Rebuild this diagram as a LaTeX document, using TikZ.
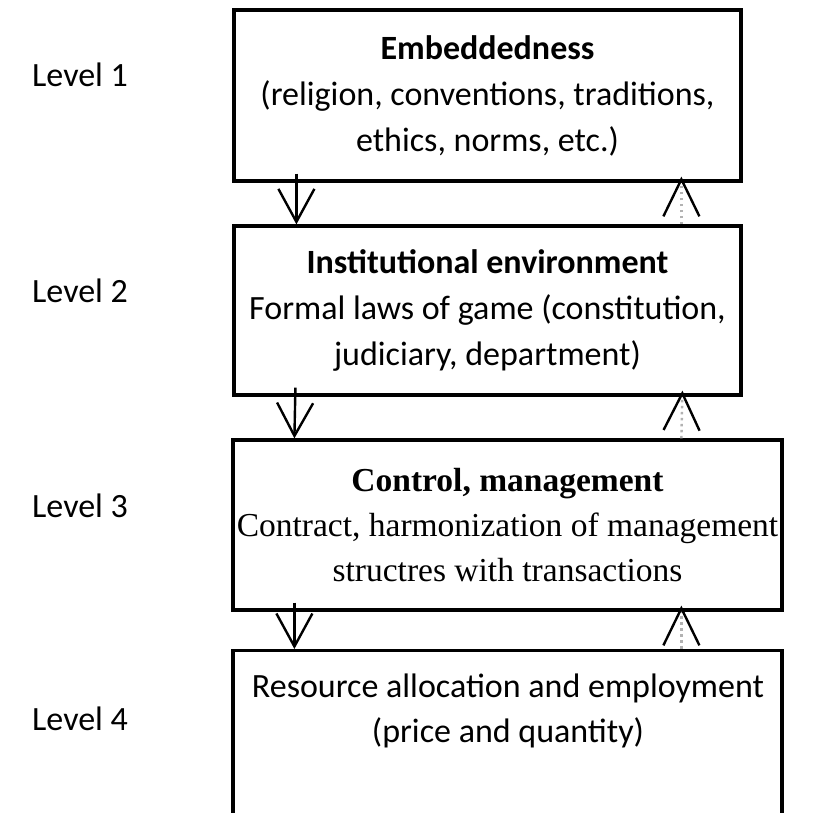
\documentclass[tikz,border=0pt]{standalone}
\usepackage{fontspec}
\setmainfont{Carlito}
\newfontfamily\timesfont{Liberation Serif}
\usetikzlibrary{arrows.meta}

\begin{document}
\begin{tikzpicture}[x=1pt,y=1pt,
  level/.style={rectangle,draw,line width=3.2pt,align=center,inner sep=0pt,
    font=\fontsize{34}{46}\selectfont},
  lvltag/.style={anchor=west,inner sep=0pt,font=\fontsize{34}{40}\selectfont},
  down/.style={line width=2.4pt,-{Straight Barb[length=33pt,width=36pt,line width=2.4pt]}},
  up/.style={line width=2.4pt,gray!60,dash pattern=on 2.5pt off 3.5pt,
    -{Straight Barb[length=37pt,width=36pt,line width=2.4pt,color=black]}}]

\useasboundingbox (0,0) rectangle (828,812);
\clip (0,0) rectangle (828,812);

\node[level, minimum width=507, minimum height=171] (l1) at (487.5,716.5)
  {\textbf{Embeddedness}\\(religion, conventions, traditions,\\ethics, norms, etc.)};
\node[level, minimum width=507, minimum height=169] (l2) at (487.5,501.5)
  {\textbf{Institutional environment}\\Formal laws of game (constitution,\\judiciary, department)};
\node[level, minimum width=549, minimum height=170, font=\timesfont\fontsize{33.5}{45}\selectfont] (l3) at (507.5,287)
  {\textbf{Control, management}\\Contract, harmonization of management\\structres with transactions};
\node[level, minimum width=549, minimum height=200, anchor=north] (l4) at (507.5,163) {};
\node[align=center, inner sep=0pt, font=\fontsize{34}{45}\selectfont] (l4text) at (508,101.5)
  {Resource allocation and employment\\(price and quantity)};

\node[lvltag] (tag1) at (32,737) {Level 1};
\node[lvltag] (tag2) at (32,521) {Level 2};
\node[lvltag] (tag3) at (32,306) {Level 3};
\node[lvltag] (tag4) at (32,93) {Level 4};

\draw[down] ([xshift=64pt,yshift=9pt]l1.south west) -- ([xshift=64pt]l2.north west);
\draw[down] ([xshift=63pt,yshift=9pt]l2.south west) -- ([xshift=63pt]l3.north west);
\draw[down] ([xshift=63pt,yshift=9pt]l3.south west) -- ([xshift=63pt]l4.north west);

\draw[up] ([xshift=449pt]l2.north west) -- ([xshift=449pt,yshift=6pt]l1.south west);
\draw[up] ([xshift=450pt]l3.north west) -- ([xshift=450pt,yshift=6pt]l2.south west);
\draw[up] ([xshift=450pt]l4.north west) -- ([xshift=450pt,yshift=6pt]l3.south west);
\end{tikzpicture}
\end{document}
